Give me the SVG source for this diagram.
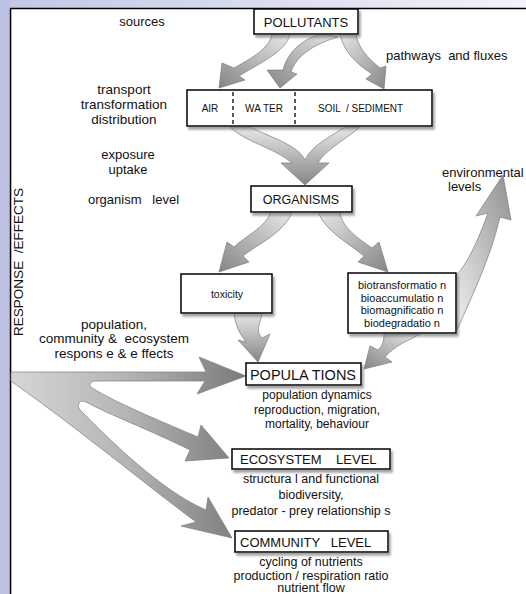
<svg xmlns="http://www.w3.org/2000/svg" width="526" height="594" viewBox="0 0 526 594">
<defs>
<linearGradient id="bandG" x1="0" y1="0" x2="1" y2="0"><stop offset="0" stop-color="#c3c6e5"/><stop offset="1" stop-color="#f3f3f9"/></linearGradient>
<linearGradient id="gDown" x1="0" y1="0" x2="0" y2="1"><stop offset="0" stop-color="#e8e8e8"/><stop offset="1" stop-color="#858585"/></linearGradient>
<linearGradient id="gRight" x1="0" y1="0" x2="1" y2="0"><stop offset="0" stop-color="#d6d6d6"/><stop offset="0.5" stop-color="#b4b4b4"/><stop offset="1" stop-color="#7a7a7a"/></linearGradient>
<linearGradient id="gDR" x1="0" y1="0" x2="1" y2="1"><stop offset="0" stop-color="#e8e8e8"/><stop offset="1" stop-color="#858585"/></linearGradient>
<linearGradient id="gDL" x1="1" y1="0" x2="0" y2="1"><stop offset="0" stop-color="#e8e8e8"/><stop offset="1" stop-color="#858585"/></linearGradient>
<linearGradient id="gUR" x1="0" y1="1" x2="1" y2="0"><stop offset="0" stop-color="#f0f0f0"/><stop offset="1" stop-color="#909090"/></linearGradient>
<filter id="sh" x="-10%" y="-20%" width="130%" height="160%"><feDropShadow dx="2" dy="3" stdDeviation="1.3" flood-color="#666" flood-opacity="0.6"/></filter>
</defs>
<style>
text{font-family:"Liberation Sans",Arial,sans-serif;fill:#111;}
.box{fill:#fff;stroke:#000;stroke-width:1.5;filter:url(#sh);}
.arr{stroke:#7d7d7d;stroke-width:0.7;stroke-linejoin:round;}
.m{text-anchor:middle;}
.pre{white-space:pre;}
</style>
<rect x="0" y="0" width="526" height="594" fill="#fff"/>
<rect x="0" y="0" width="526" height="8" fill="url(#bandG)"/>
<rect x="0" y="0" width="9.5" height="594" fill="#bcc0e2"/>
<path d="M10 8.5H526M10.5 8V594" stroke="#000" stroke-width="1.6" fill="none"/>

<g id="connectors">
<path class="arr" fill="url(#gDL)" d="M272 34C270 48 252 58 234 68L222 63L219 88L245 80L239 76C258 64 286 52 290 34Z"/>
<path class="arr" fill="url(#gDL)" d="M322 34C305 38 288 50 283 70L267 70L280 88L297 74L291 72C296 56 314 44 338 37Z"/>
<path class="arr" fill="url(#gDR)" d="M340 34C344 54 360 66 372 74L366 79L384 89L386 66L380 68C368 58 358 48 356 34Z"/>
<path class="arr" fill="url(#gDown)" d="M230 127C245 142 275 148 292 163L281 163L305 185L329 163L318 163C325 150 345 140 360 127L345 127C330 137 312 145 305 160C298 145 270 137 250 127Z"/>
<path class="arr" fill="url(#gDL)" d="M271 212C265 228 245 236 234 247L227 242L219 272L249 262L243 256C258 244 285 232 292 212Z"/>
<path class="arr" fill="url(#gDR)" d="M318 212C326 232 350 244 364 256L358 262L388 272L379 242L372 248C358 238 342 228 340 212Z"/>
<path class="arr" fill="url(#gDown)" d="M234 313C236 330 242 336 246 342L238 340L258 362L270 334L262 338C254 330 262 320 262 313Z"/>
<path class="arr" fill="url(#gDL)" d="M384 334C384 342 382 346 378 350L370 346L364 369L392 362L385 357C395 345 410 340 420 334Z"/>
<path class="arr" fill="url(#gUR)" d="M456 276C470 260 480 235 488 213L476 216L503 175L511 220L500 217C490 260 470 300 457 330Z"/>
<path class="arr" fill="url(#gRight)" d="M11 372L206 372L199 357L246 376L197 394L205 381L96 381C90 381 88 385 92 388C120 405 170 425 198 437L201 425L229 458L185 461L190 450C150 430 110 415 86 402C80 399 76 404 80 410C110 440 160 490 206 510L208 497L232 538L181 526L196 522C140 480 80 430 11 381Z"/>
</g>

<g id="sources"><text class="m" x="142" y="26" font-size="13">sources</text></g>
<g id="pathways"><text x="386" y="60" font-size="13" class="pre">pathways  and fluxes</text></g>
<g id="pollutants"><rect class="box" x="254" y="9" width="104" height="25"/><text class="m" x="306" y="26.5" font-size="13">POLLUTANTS</text></g>
<g id="transport"><text class="m" font-size="13.5"><tspan x="124" y="94">transport</tspan><tspan x="124" y="109">transformation</tspan><tspan x="124" y="124">distribution</tspan></text></g>
<g id="compartments"><rect class="box" x="187" y="90" width="245" height="36"/>
<path d="M233 92V124M295 92V124" stroke="#000" stroke-width="1.3" stroke-dasharray="4 3"/>
<text class="m" x="210" y="112" font-size="10">AIR</text><text class="m" x="264" y="112" font-size="10">WA TER</text><text x="318" y="112" font-size="10" class="pre">SOIL  / SEDIMENT</text></g>
<g id="exposure"><text class="m" font-size="13"><tspan x="128" y="159">exposure</tspan><tspan x="128" y="174">uptake</tspan></text></g>
<g id="orglevel"><text x="88" y="204" font-size="13" class="pre">organism   level</text></g>
<g id="envlevels"><text font-size="13"><tspan x="442" y="177">environmental</tspan><tspan x="448" y="191">levels</tspan></text></g>
<g id="organisms"><rect class="box" x="251" y="186" width="101" height="26"/><text class="m" x="301" y="203.5" font-size="12.5">ORGANISMS</text></g>
<g id="response"><text class="m pre" transform="translate(23 262) rotate(-90)" font-size="13.5">RESPONSE  /EFFECTS</text></g>
<g id="toxicity"><rect class="box" x="181" y="274" width="91" height="39"/><text class="m" x="227" y="298" font-size="10.5">toxicity</text></g>
<g id="bio"><rect class="box" x="348" y="273" width="108" height="60"/><text class="m" font-size="11"><tspan x="402" y="289">biotransformatio n</tspan><tspan x="402" y="301.5">bioaccumulatio n</tspan><tspan x="402" y="314">biomagnificatio n</tspan><tspan x="402" y="326.5">biodegradatio n</tspan></text></g>
<g id="popresponse"><text class="m pre" font-size="13.5"><tspan x="114" y="329">population,</tspan><tspan x="114" y="343">community &amp;  ecosystem</tspan><tspan x="114" y="358">respons e &amp; e ffects</tspan></text></g>
<g id="populations"><rect class="box" x="246" y="363" width="115" height="22"/><text class="m" x="303" y="379.5" font-size="14.5">POPULA TIONS</text>
<text class="m" font-size="12"><tspan x="317" y="399">population dynamics</tspan><tspan x="317" y="413.5">reproduction, migration,</tspan><tspan x="317" y="428">mortality, behaviour</tspan></text></g>
<g id="ecosystem"><rect class="box" x="232" y="449" width="158" height="20"/><text x="240" y="464" font-size="13" class="pre">ECOSYSTEM    LEVEL</text>
<text class="m" font-size="12.5"><tspan x="311" y="483">structura l and functional</tspan><tspan x="311" y="499">biodiversity,</tspan><tspan x="311" y="515">predator - prey relationship s</tspan></text></g>
<g id="community"><rect class="box" x="235" y="531" width="153" height="21"/><text x="240" y="547" font-size="13" class="pre">COMMUNITY   LEVEL</text>
<text class="m" font-size="12.5"><tspan x="311" y="566">cycling of nutrients</tspan><tspan x="311" y="579.5">production / respiration  ratio</tspan><tspan x="311" y="592">nutrient flow</tspan></text></g>
</svg>
